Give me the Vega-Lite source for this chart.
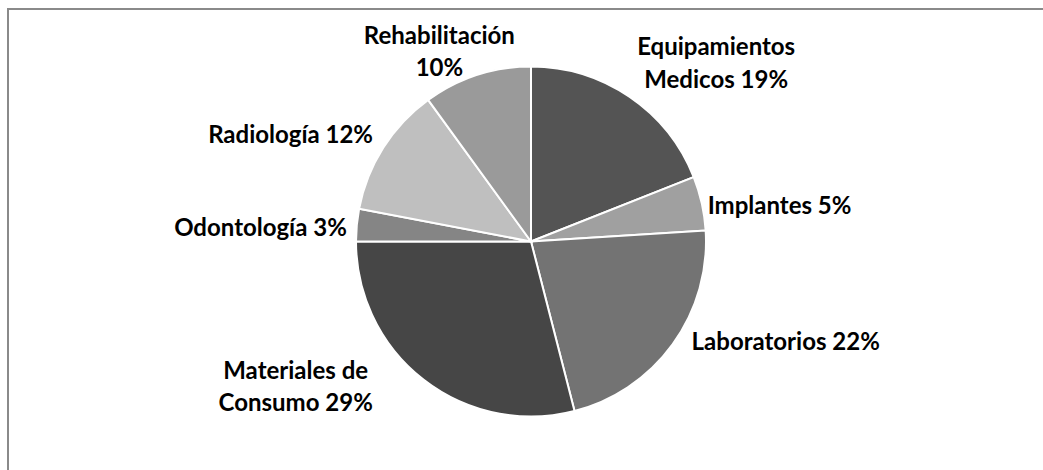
{
  "$schema": "https://vega.github.io/schema/vega-lite/v6.json",
  "autosize": {"type": "none"},
  "width": 1046,
  "height": 465,
  "padding": {"left": 8, "top": 9, "right": -11, "bottom": -4},
  "background": "white",
  "view": {"stroke": "#8a8a8a", "strokeWidth": 2, "fill": "white"},
  "config": {"view": {"stroke": "#8a8a8a", "strokeWidth": 2}},
  "data": {"values": [
    {"o": 1, "cat": "Equipamientos Medicos", "value": 19, "label": "Equipamientos\nMedicos 19%"},
    {"o": 2, "cat": "Implantes", "value": 5, "label": "Implantes 5%"},
    {"o": 3, "cat": "Laboratorios", "value": 22, "label": "Laboratorios 22%"},
    {"o": 4, "cat": "Materiales de Consumo", "value": 29, "label": "Materiales de\nConsumo 29%"},
    {"o": 5, "cat": "Odontología", "value": 3, "label": "Odontología 3%"},
    {"o": 6, "cat": "Radiología", "value": 12, "label": "Radiología 12%"},
    {"o": 7, "cat": "Rehabilitación", "value": 10, "label": "Rehabilitación\n10%"}
  ]},
  "encoding": {
    "theta": {"field": "value", "type": "quantitative", "stack": true},
    "order": {"field": "o", "type": "quantitative", "sort": "ascending"}
  },
  "layer": [
    {
      "mark": {"type": "arc", "outerRadius": 175, "stroke": "white", "strokeWidth": 2},
      "encoding": {
        "color": {"field": "cat", "type": "nominal", "legend": null,
          "scale": {"domain": ["Equipamientos Medicos", "Implantes", "Laboratorios", "Materiales de Consumo", "Odontología", "Radiología", "Rehabilitación"],
                    "range": ["#545454", "#a0a0a0", "#737373", "#464646", "#858585", "#bfbfbf", "#9a9a9a"]}}
      }
    },
    {
      "mark": {"type": "text", "radius": 180, "align": "center", "baseline": "middle", "dx": 84, "dy": -45, "font": "Lato", "fontSize": 24, "fontWeight": "bold", "lineBreak": "\n", "lineHeight": 33, "color": "black"},
      "encoding": {"text": {"condition": {"test": "datum.cat === 'Equipamientos Medicos'", "field": "label"}, "value": ""}}
    },
    {
      "mark": {"type": "text", "radius": 180, "align": "left", "baseline": "middle", "dx": 1, "dy": 5, "font": "Lato", "fontSize": 24, "fontWeight": "bold", "lineBreak": "\n", "color": "black"},
      "encoding": {"text": {"condition": {"test": "datum.cat === 'Implantes'", "field": "label"}, "value": ""}}
    },
    {
      "mark": {"type": "text", "radius": 180, "align": "left", "baseline": "middle", "dx": 15, "dy": -4, "font": "Lato", "fontSize": 24, "fontWeight": "bold", "lineBreak": "\n", "color": "black"},
      "encoding": {"text": {"condition": {"test": "datum.cat === 'Laboratorios'", "field": "label"}, "value": ""}}
    },
    {
      "mark": {"type": "text", "radius": 180, "align": "center", "baseline": "middle", "dx": -125, "dy": -12, "font": "Lato", "fontSize": 24, "fontWeight": "bold", "lineBreak": "\n", "lineHeight": 32, "color": "black"},
      "encoding": {"text": {"condition": {"test": "datum.cat === 'Materiales de Consumo'", "field": "label"}, "value": ""}}
    },
    {
      "mark": {"type": "text", "radius": 180, "align": "right", "baseline": "middle", "dx": -5, "dy": 4, "font": "Lato", "fontSize": 24, "fontWeight": "bold", "lineBreak": "\n", "color": "black"},
      "encoding": {"text": {"condition": {"test": "datum.cat === 'Odontología'", "field": "label"}, "value": ""}}
    },
    {
      "mark": {"type": "text", "radius": 180, "align": "right", "baseline": "middle", "dx": -6, "dy": -9, "font": "Lato", "fontSize": 24, "fontWeight": "bold", "lineBreak": "\n", "color": "black"},
      "encoding": {"text": {"condition": {"test": "datum.cat === 'Radiología'", "field": "label"}, "value": ""}}
    },
    {
      "mark": {"type": "text", "radius": 180, "align": "center", "baseline": "middle", "dx": -36, "dy": -33, "font": "Lato", "fontSize": 24, "fontWeight": "bold", "lineBreak": "\n", "lineHeight": 32, "color": "black"},
      "encoding": {"text": {"condition": {"test": "datum.cat === 'Rehabilitación'", "field": "label"}, "value": ""}}
    }
  ]
}
